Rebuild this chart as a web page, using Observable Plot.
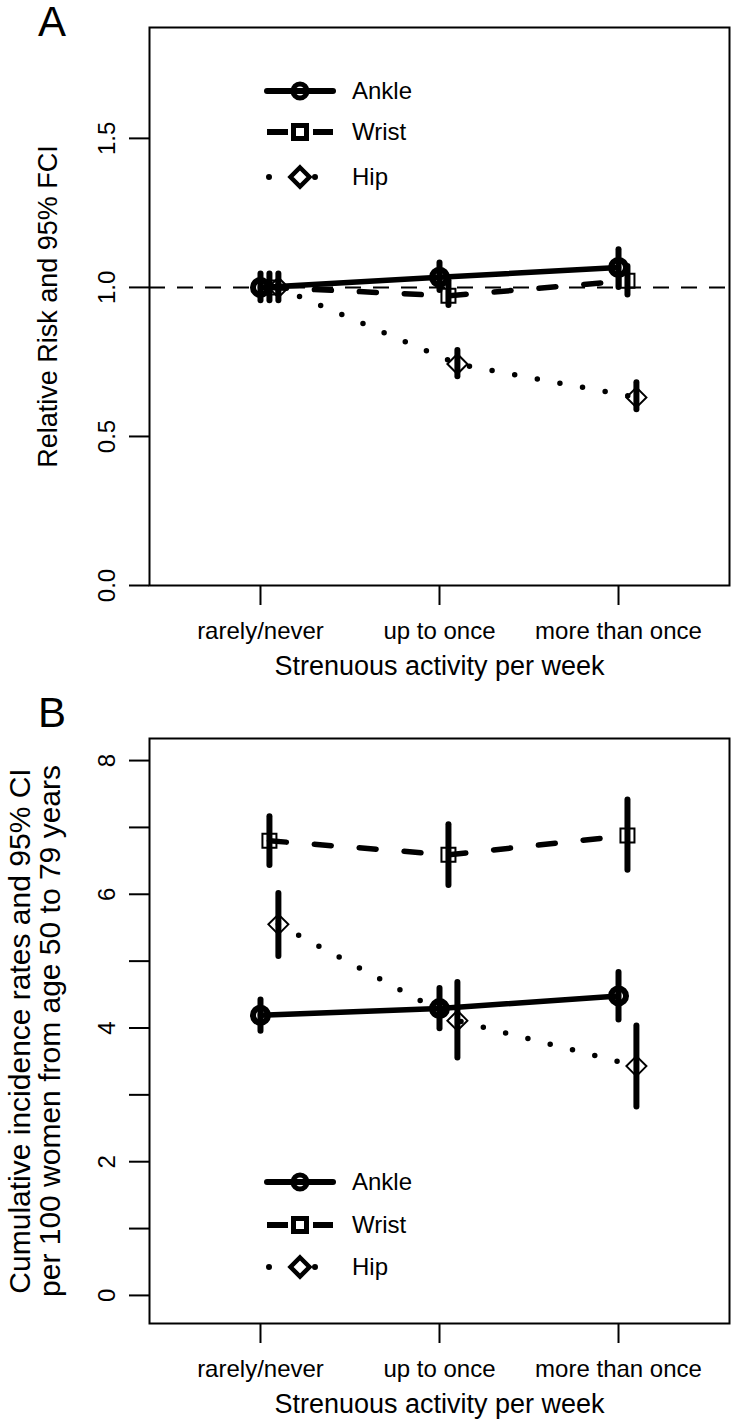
<!DOCTYPE html>
<html><head><meta charset="utf-8">
<script src="https://cdn.jsdelivr.net/npm/d3@7"></script>
<script src="https://cdn.jsdelivr.net/npm/@observablehq/plot@0.6"></script>
<style>
html,body{margin:0;padding:0;background:#fff;overflow:hidden;}
#wrap{width:733px;}
#wrap svg{display:block;}
</style></head><body><div id="wrap"></div>
<script>
// ---------- data ----------
const categories = ["rarely/never", "up to once", "more than once"];
const siteNames = ["Ankle", "Wrist", "Hip"];

// Panel A: relative risk and 95% FCI
const rrAnkle   = [1.00, 1.034, 1.067];
const rrAnkleLo = [0.955, 0.99, 1.00];
const rrAnkleHi = [1.045, 1.082, 1.126];
const rrWrist   = [1.00, 0.972, 1.022];
const rrWristLo = [0.955, 0.939, 0.975];
const rrWristHi = [1.045, 1.022, 1.07];
const rrHip     = [1.00, 0.743, 0.631];
const rrHipLo   = [0.955, 0.70, 0.59];
const rrHipHi   = [1.045, 0.788, 0.68];

// Panel B: cumulative incidence per 100 women (age 50-79) and 95% CI
const ciAnkle   = [4.19, 4.29, 4.48];
const ciAnkleLo = [3.95, 3.99, 4.12];
const ciAnkleHi = [4.42, 4.59, 4.83];
const ciWrist   = [6.80, 6.59, 6.88];
const ciWristLo = [6.43, 6.13, 6.36];
const ciWristHi = [7.16, 7.04, 7.41];
const ciHip     = [5.55, 4.11, 3.43];
const ciHipLo   = [5.07, 3.55, 2.82];
const ciHipHi   = [6.01, 4.68, 4.03];

const rrTicks = [0, 0.5, 1.0, 1.5];
const rateTicks = [0, 1, 2, 3, 4, 5, 6, 7, 8];
const rateTickLabels = [0, 2, 4, 6, 8];

// ---------- build tables ----------
function buildRows(series) {
  const out = [];
  for (const site of siteNames) {
    const [v, lo, hi] = series[site];
    v.forEach((val, i) => out.push({site, xi: i + 1, v: val, lo: lo[i], hi: hi[i]}));
  }
  return out;
}
const rowsA = buildRows({Ankle: [rrAnkle, rrAnkleLo, rrAnkleHi], Wrist: [rrWrist, rrWristLo, rrWristHi], Hip: [rrHip, rrHipLo, rrHipHi]});
const rowsB = buildRows({Ankle: [ciAnkle, ciAnkleLo, ciAnkleHi], Wrist: [ciWrist, ciWristLo, ciWristHi], Hip: [ciHip, ciHipLo, ciHipHi]});

const FONT = "'Liberation Sans', Arial, Helvetica, sans-serif";

function makePanel(cfg) {
  const dodge = {Ankle: 0, Wrist: 0.05, Hip: 0.1};
  const X = d => d.xi + dodge[d.site];
  const lineStyle = {
    Ankle: {},
    Wrist: {strokeDasharray: "17,28"},
    Hip: {strokeDasharray: "0,23"}
  };
  const dotStyle = {
    Ankle: {symbol: "circle", r: 7.5, strokeWidth: 6},
    Wrist: {symbol: "square", r: 7.9, strokeWidth: 2},
    Hip: {symbol: "diamond2", r: 9, strokeWidth: 2}
  };
  const marks = [];
  if (cfg.ref != null) marks.push(Plot.ruleY([cfg.ref], {stroke: "black", strokeWidth: 2, strokeDasharray: "16,12"}));
  for (const site of siteNames) {
    const data = cfg.rows.filter(d => d.site === site);
    marks.push(Plot.line(data, {x: X, y: "v", stroke: "black", strokeWidth: 5.5, strokeLinecap: "round", strokeLinejoin: "round", ...lineStyle[site]}));
  }
  for (const site of siteNames) {
    const data = cfg.rows.filter(d => d.site === site);
    marks.push(Plot.ruleX(data, {x: X, y1: "lo", y2: "hi", stroke: "black", strokeWidth: 6, strokeLinecap: "round"}));
  }
  for (const site of siteNames) {
    const data = cfg.rows.filter(d => d.site === site);
    marks.push(Plot.dot(data, {x: X, y: "v", stroke: "black", fill: "none", ...dotStyle[site]}));
  }
  marks.push(
    Plot.frame({stroke: "black", strokeWidth: 2}),
    Plot.axisX({ticks: [1, 2, 3], tickSize: 20, tickFormat: () => "", label: null, strokeWidth: 2}),
    Plot.text(categories, {x: (d, i) => i + 1, text: d => d, frameAnchor: "bottom", dy: 36, lineAnchor: "top", textAnchor: "middle", fontSize: 24}),
    Plot.text(["Strenuous activity per week"], {text: d => d, frameAnchor: "bottom", dy: 81, lineAnchor: "middle", textAnchor: "middle", fontSize: 27}),
    Plot.axisY({ticks: cfg.yTicks, tickSize: 20, tickFormat: () => "", label: null, strokeWidth: 2}),
    Plot.text(cfg.yLabelTicks, {y: d => d, text: cfg.fmt, frameAnchor: "left", dx: -42, rotate: -90, fontSize: 24, lineAnchor: "middle", textAnchor: "middle"}),
    Plot.text([cfg.yTitle], {text: d => d, frameAnchor: "left", dx: cfg.titleDx, rotate: -90, fontSize: cfg.titleSize, lineAnchor: "middle", textAnchor: "middle", lineHeight: 1.0})
  );
  const svg = Plot.plot({
    width: 733, height: cfg.height,
    marginLeft: 149, marginRight: 4, marginTop: cfg.marginTop, marginBottom: cfg.marginBottom,
    x: {domain: [0.38, 3.62]},
    y: {domain: cfg.yDomain},
    style: {fontFamily: FONT, background: "white", color: "black", overflow: "visible"},
    marks
  });
  // legend and panel letter (pixel placement, not data)
  const s = d3.select(svg);
  const g = s.append("g").attr("stroke", "black").attr("fill", "none");
  const [yA, yW, yH] = cfg.legendY;
  g.append("line").attr("x1", 267).attr("x2", 333).attr("y1", yA).attr("y2", yA).attr("stroke-width", 6).attr("stroke-linecap", "round");
  g.append("circle").attr("cx", 300).attr("cy", yA).attr("r", 7).attr("stroke-width", 5);
  g.append("line").attr("x1", 267).attr("x2", 333).attr("y1", yW).attr("y2", yW).attr("stroke-width", 6).attr("stroke-dasharray", "21,25");
  g.append("rect").attr("x", 293.5).attr("y", yW - 6.5).attr("width", 13).attr("height", 13).attr("stroke-width", 5);
  g.append("line").attr("x1", 269).attr("x2", 333).attr("y1", yH).attr("y2", yH).attr("stroke-width", 6).attr("stroke-linecap", "round").attr("stroke-dasharray", "0,46");
  g.append("path").attr("d", `M300,${yH - 9.5}L309.5,${yH}L300,${yH + 9.5}L290.5,${yH}Z`).attr("stroke-width", 4.5);
  const tg = s.append("g").attr("font-family", FONT).attr("font-size", 24).attr("fill", "black").attr("text-anchor", "start");
  siteNames.forEach((name, i) => tg.append("text").attr("x", 352).attr("y", cfg.legendY[i]).attr("dy", "0.35em").text(name));
  s.append("text").attr("x", 52).attr("y", cfg.letterY).attr("text-anchor", "middle")
    .attr("font-family", FONT).attr("font-size", 42).attr("fill", "black").text(cfg.letter);
  return svg;
}

const wrap = document.getElementById("wrap");
wrap.appendChild(makePanel({
  rows: rowsA, ref: 1, height: 712, marginTop: 27, marginBottom: 127,
  yDomain: [0, 1.872], yTicks: rrTicks, yLabelTicks: rrTicks, fmt: d => d3.format(".1f")(d),
  yTitle: "Relative Risk and 95% FCI", titleDx: -101, titleSize: 27,
  legendY: [91, 132, 177], letter: "A", letterY: 36
}));
wrap.appendChild(makePanel({
  rows: rowsB, ref: null, height: 712, marginTop: 26, marginBottom: 101,
  yDomain: [-0.42, 8.33], yTicks: rateTicks, yLabelTicks: rateTickLabels, fmt: d => String(d),
  yTitle: "Cumulative incidence rates and 95% CI\nper 100 women from age 50 to 79 years", titleDx: -114, titleSize: 30,
  legendY: [470, 513, 555], letter: "B", letterY: 15
}));
</script></body></html>
